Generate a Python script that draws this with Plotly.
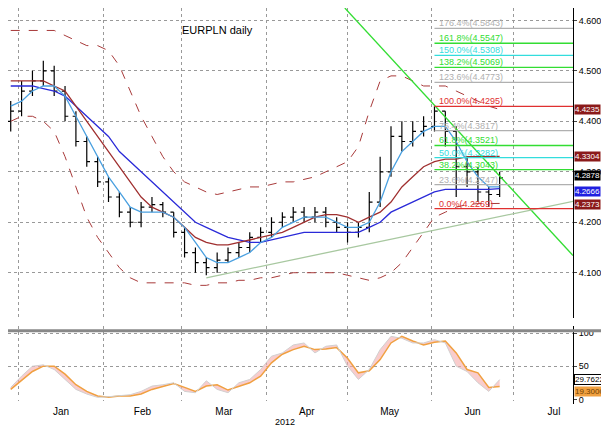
import pandas as pd
import plotly.graph_objects as go
from plotly.subplots import make_subplots

# every 4 calendar days, Dec 29 2011 .. Jun 26 2012
dates = pd.date_range("2011-12-29", periods=46, freq="4D")

close = [4.42, 4.46, 4.48, 4.50, 4.46, 4.41, 4.36, 4.32, 4.28, 4.25,
         4.22, 4.20, 4.23, 4.235, 4.22, 4.18, 4.14, 4.12, 4.11, 4.125,
         4.14, 4.15, 4.17, 4.18, 4.20, 4.21, 4.22, 4.21, 4.22, 4.20,
         4.19, 4.18, 4.19, 4.24, 4.30, 4.37, 4.36, 4.38, 4.39, 4.42,
         4.38, 4.31, 4.30, 4.26, 4.255, 4.2878]
open_ = [4.40, 4.42, 4.46, 4.48, 4.50, 4.46, 4.41, 4.36, 4.32, 4.28,
         4.25, 4.22, 4.20, 4.23, 4.235, 4.22, 4.18, 4.14, 4.12, 4.11,
         4.125, 4.14, 4.15, 4.17, 4.18, 4.20, 4.21, 4.22, 4.21, 4.22,
         4.20, 4.19, 4.18, 4.19, 4.24, 4.30, 4.37, 4.36, 4.38, 4.39,
         4.42, 4.38, 4.31, 4.30, 4.26, 4.255]
high = [4.44, 4.48, 4.50, 4.52, 4.51, 4.47, 4.42, 4.37, 4.33, 4.29,
        4.26, 4.23, 4.24, 4.25, 4.24, 4.22, 4.19, 4.15, 4.13, 4.14,
        4.15, 4.16, 4.18, 4.19, 4.21, 4.22, 4.23, 4.23, 4.23, 4.23,
        4.21, 4.20, 4.20, 4.26, 4.33, 4.39, 4.40, 4.40, 4.41, 4.43,
        4.42, 4.39, 4.33, 4.31, 4.27, 4.30]
low = [4.38, 4.41, 4.45, 4.47, 4.45, 4.40, 4.35, 4.31, 4.27, 4.24,
       4.21, 4.19, 4.19, 4.22, 4.21, 4.17, 4.13, 4.10, 4.095, 4.10,
       4.12, 4.13, 4.14, 4.16, 4.17, 4.19, 4.20, 4.20, 4.20, 4.19,
       4.18, 4.16, 4.17, 4.18, 4.23, 4.29, 4.34, 4.35, 4.37, 4.38,
       4.35, 4.25, 4.27, 4.24, 4.23, 4.25]

ma_fast = [4.43, 4.44, 4.46, 4.47, 4.47, 4.45, 4.41, 4.37, 4.33, 4.29,
           4.26, 4.23, 4.22, 4.22, 4.22, 4.21, 4.19, 4.16, 4.13, 4.12,
           4.12, 4.13, 4.14, 4.16, 4.17, 4.19, 4.20, 4.21, 4.21, 4.21,
           4.20, 4.19, 4.19, 4.20, 4.24, 4.30, 4.34, 4.36, 4.38, 4.39,
           4.39, 4.36, 4.32, 4.29, 4.27, 4.27]
ma_mid = [4.48, 4.48, 4.48, 4.48, 4.47, 4.46, 4.43, 4.40, 4.37, 4.34,
          4.31, 4.28, 4.25, 4.23, 4.22, 4.21, 4.19, 4.17, 4.16, 4.155,
          4.155, 4.16, 4.165, 4.17, 4.175, 4.18, 4.19, 4.20, 4.21, 4.215,
          4.215, 4.21, 4.20, 4.21, 4.22, 4.24, 4.27, 4.29, 4.31, 4.32,
          4.325, 4.325, 4.33, 4.33, 4.33, 4.3304]
ma_slow = [4.47, 4.47, 4.47, 4.465, 4.46, 4.45, 4.43, 4.41, 4.39, 4.37,
           4.34, 4.32, 4.30, 4.28, 4.26, 4.24, 4.22, 4.20, 4.19, 4.18,
           4.17, 4.165, 4.16, 4.16, 4.165, 4.17, 4.175, 4.18, 4.18, 4.18,
           4.18, 4.18, 4.18, 4.19, 4.20, 4.22, 4.23, 4.24, 4.25, 4.26,
           4.265, 4.265, 4.265, 4.265, 4.265, 4.2666]
bb_up = [4.58, 4.58, 4.58, 4.58, 4.58, 4.57, 4.56, 4.55, 4.55, 4.54,
         4.51, 4.46, 4.41, 4.37, 4.33, 4.30, 4.28, 4.27, 4.26, 4.255,
         4.26, 4.265, 4.27, 4.27, 4.275, 4.28, 4.28, 4.285, 4.29, 4.30,
         4.31, 4.32, 4.35, 4.42, 4.48, 4.49, 4.49, 4.48, 4.47, 4.47,
         4.47, 4.46, 4.45, 4.44, 4.43, 4.4235]
bb_lo = [4.40, 4.41, 4.41, 4.40, 4.38, 4.33, 4.27, 4.21, 4.17, 4.14,
         4.11, 4.09, 4.08, 4.08, 4.08, 4.08, 4.08, 4.075, 4.075, 4.08,
         4.08, 4.085, 4.085, 4.09, 4.09, 4.095, 4.10, 4.10, 4.10, 4.10,
         4.10, 4.095, 4.09, 4.085, 4.09, 4.10, 4.12, 4.15, 4.18, 4.21,
         4.22, 4.23, 4.235, 4.237, 4.237, 4.2373]

rsi = [15, 28, 42, 50, 50, 38, 22, 12, 5, 3,
       5, 5, 8, 15, 20, 24, 18, 12, 20, 22,
       14, 20, 25, 35, 55, 68, 75, 80, 75, 76,
       78, 62, 40, 43, 60, 85, 95, 88, 82, 86,
       88, 70, 45, 40, 18, 19.3]
rsi_fast = [18, 35, 50, 52, 45, 30, 15, 8, 3, 4,
            6, 7, 12, 20, 22, 25, 12, 10, 28, 15,
            10, 25, 30, 45, 65, 70, 82, 85, 70, 80,
            82, 50, 30, 45, 75, 95, 92, 85, 85, 90,
            85, 50, 42, 25, 12, 29.7622]

fib_labels = ["176.4%", "161.8%", "150.0%", "138.2%", "123.6%", "100.0%",
              "76.4%", "61.8%", "50.0%", "38.2%", "23.6%", "0.0%"]
fib_levels = [4.5843, 4.5547, 4.5308, 4.5069, 4.4773, 4.4295,
              4.3817, 4.3521, 4.3282, 4.3043, 4.2747, 4.2269]
fib_colors = ["#b0b0b0", "#33dd33", "#33dddd", "#33dd33", "#b0b0b0", "#e03030",
              "#b0b0b0", "#33dd33", "#33dddd", "#33dd33", "#b0b0b0", "#e03030"]

trend_down = (["2012-04-30", "2012-07-23"], [4.6245, 4.134])
trend_up = (["2012-03-10", "2012-07-23"], [4.09, 4.2415])

last_vals = [4.4235, 4.3304, 4.2878, 4.2666, 4.2373]
last_cols = ["#8b1a1a", "#8b1a1a", "#000000", "#2020e0", "#8b1a1a"]
last_nudge = [0, 0, 2, -3, -1]

fig = make_subplots(rows=2, cols=1, shared_xaxes=True, row_heights=[0.8, 0.2],
                    vertical_spacing=0.02)

fig.add_trace(go.Scatter(x=dates, y=bb_up, mode="lines",
                         line=dict(color="#a83a3a", width=1, dash="dash")), row=1, col=1)
fig.add_trace(go.Scatter(x=dates, y=bb_lo, mode="lines",
                         line=dict(color="#a83a3a", width=1, dash="dash")), row=1, col=1)
fig.add_trace(go.Scatter(x=dates, y=ma_slow, mode="lines",
                         line=dict(color="#2a2ad8", width=1.3)), row=1, col=1)
fig.add_trace(go.Scatter(x=dates, y=ma_mid, mode="lines",
                         line=dict(color="#a03030", width=1.3)), row=1, col=1)
fig.add_trace(go.Scatter(x=dates, y=ma_fast, mode="lines",
                         line=dict(color="#4aa0e0", width=1.3)), row=1, col=1)
fig.add_trace(go.Ohlc(x=dates, open=open_, high=high, low=low, close=close,
                      increasing_line_color="black", decreasing_line_color="black",
                      line_width=1.2), row=1, col=1)
fig.add_trace(go.Scatter(x=list(trend_down[0]), y=list(trend_down[1]), mode="lines",
                         line=dict(color="#33dd33", width=1.3)), row=1, col=1)
fig.add_trace(go.Scatter(x=list(trend_up[0]), y=list(trend_up[1]), mode="lines",
                         line=dict(color="#a8c8a0", width=1.3)), row=1, col=1)

for lab, lv, c in zip(fib_labels, fib_levels, fib_colors):
    fig.add_shape(type="line", x0="2012-06-02", x1="2012-07-23", y0=lv, y1=lv,
                  line=dict(color=c, width=1.3), row=1, col=1)
    fig.add_annotation(x="2012-06-03", y=lv, text=f"{lab}({lv:.4f})", showarrow=False,
                       xanchor="left", yanchor="bottom", yshift=-2,
                       font=dict(size=9, color=c), row=1, col=1)

for v, c, n in zip(last_vals, last_cols, last_nudge):
    fig.add_annotation(x=1.0, xref="paper", y=v, yref="y", text=f"{v:.4f}",
                       showarrow=False, xanchor="left", xshift=1, yshift=n, borderpad=0,
                       font=dict(size=8, color="white"), bgcolor=c)

fig.add_hline(y=70, line=dict(color="#e03030", width=1), row=2, col=1)
fig.add_hline(y=30, line=dict(color="#33dd33", width=1), row=2, col=1)
fig.add_trace(go.Scatter(x=dates, y=rsi, mode="lines",
                         line=dict(color="#f0a040", width=1.5)), row=2, col=1)
fig.add_trace(go.Scatter(x=dates, y=rsi_fast, mode="lines", fill="tonexty",
                         fillcolor="rgba(245,170,170,0.6)",
                         line=dict(color="#d0d0d0", width=1)), row=2, col=1)
fig.add_annotation(x=1.0, xref="paper", y=rsi_fast[-1], yref="y2",
                   text=f"{rsi_fast[-1]:.4f}", showarrow=False, xanchor="left", xshift=1,
                   font=dict(size=8, color="black"), bgcolor="white", borderpad=0,
                   bordercolor="black", borderwidth=1)
fig.add_annotation(x=1.0, xref="paper", y=rsi[-1] - 8, yref="y2",
                   text=f"{rsi[-1]:.4f}", showarrow=False, xanchor="left", xshift=1,
                   font=dict(size=8, color="#704000"), bgcolor="#f0a040", borderpad=0)

fig.add_annotation(x=0.37, xref="paper", y=4.58, yref="y", text="EURPLN daily",
                   showarrow=False, font=dict(size=11, color="black"))
fig.add_annotation(x=0.49, xref="paper", y=0, yref="paper", yanchor="top", yshift=-11,
                   text="2012", showarrow=False, font=dict(size=9, color="black"))
fig.add_shape(type="line", xref="paper", yref="paper", x0=0, x1=1.08, y0=0.185, y1=0.185,
              line=dict(color="#888", width=3))

fig.update_xaxes(range=["2011-12-28", "2012-07-23"], dtick="M1", tickformat="%b",
                 ticklabelmode="period", showgrid=True, gridcolor="#999",
                 griddash="dot", gridwidth=1, showline=False, ticks="")
fig.update_yaxes(side="right", showgrid=True, gridcolor="#999", griddash="dot",
                 showline=True, linecolor="black", ticks="outside", ticklen=3,
                 tickfont=dict(size=9, color="black"))
fig.update_yaxes(range=[4.0094, 4.6245], dtick=0.1, tickformat=".4f", row=1, col=1)
fig.update_yaxes(range=[-7, 110], tickvals=[0, 50, 100], row=2, col=1)
fig.update_xaxes(tickfont=dict(size=10, color="black"), ticklabelstandoff=0, row=2, col=1)
fig.update_xaxes(rangeslider_visible=False, row=1, col=1)

fig.update_layout(width=609, height=428, margin=dict(l=0, r=44, t=0, b=32),
                  plot_bgcolor="white", paper_bgcolor="white", showlegend=False,
                  font=dict(family="Arial, Liberation Sans"))
fig.write_html("out.html")
